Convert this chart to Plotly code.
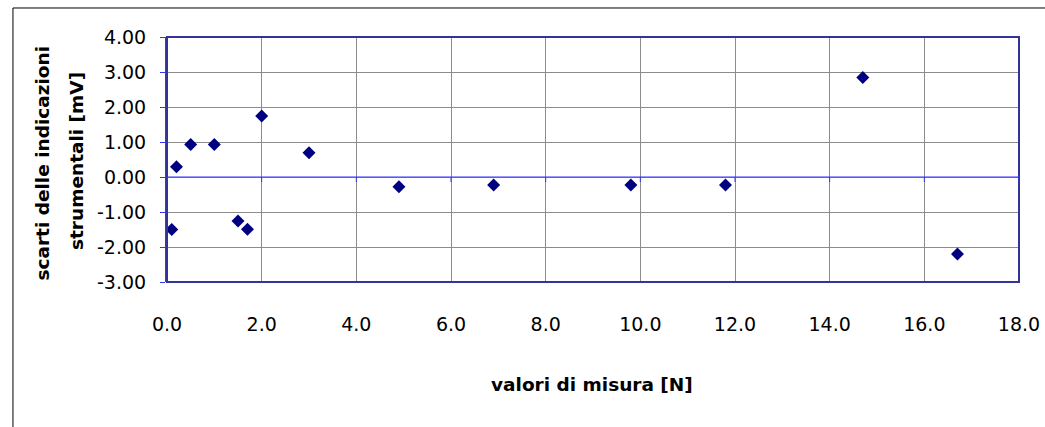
import plotly.graph_objects as go

# ---- data ----
x_vals = [0.1, 0.2, 0.5, 1.0, 1.5, 1.7, 2.0, 3.0, 4.9, 6.9, 9.8, 11.8, 14.7, 16.7]
y_vals = [-1.50, 0.29, 0.93, 0.93, -1.26, -1.49, 1.74, 0.69, -0.28, -0.23, -0.23, -0.23, 2.84, -2.20]

x_ticks = [0, 2, 4, 6, 8, 10, 12, 14, 16, 18]
x_tick_text = ["0.0", "2.0", "4.0", "6.0", "8.0", "10.0", "12.0", "14.0", "16.0", "18.0"]
y_ticks = [-3, -2, -1, 0, 1, 2, 3, 4]
y_tick_text = ["-3.00", "-2.00", "-1.00", "0.00", "1.00", "2.00", "3.00", "4.00"]

x_title = "valori di misura [N]"
y_title_lines = ["scarti delle indicazioni", "strumentali [mV]"]

FONT = "DejaVu Sans"
NAVY = "#000080"
FRAME = "#333399"
BLUE = "#3333ff"
GRID = "#8c8c8c"

fig = go.Figure()
fig.add_trace(go.Scatter(
    x=x_vals, y=y_vals, mode="markers",
    marker=dict(symbol="diamond", size=10, color=NAVY, line=dict(width=0)),
    showlegend=False, hoverinfo="x+y",
))

shapes = []
# plot-area frame
shapes.append(dict(type="rect", xref="paper", yref="paper", x0=0, x1=1, y0=0, y1=1,
                   line=dict(color=FRAME, width=2), layer="above"))
# horizontal axis crossing at y = 0
shapes.append(dict(type="line", xref="x", yref="y", x0=x_ticks[0], x1=x_ticks[-1], y0=0, y1=0,
                   line=dict(color=BLUE, width=1)))
for t in x_ticks:
    shapes.append(dict(type="line", xref="x", yref="y", ysizemode="pixel", yanchor=0,
                       x0=t, x1=t, y0=0, y1=-5, line=dict(color=BLUE, width=1)))
# outer chart border (partially outside the window)
shapes.append(dict(type="path", xref="paper", yref="paper",
                   path="M -0.1808,-0.7 L -0.1808,1.1184 L 1.05,1.1184",
                   line=dict(color="#000000", width=1)))

annotations = [
    dict(text="<b>%s</b>" % x_title, xref="paper", yref="paper", x=0.499, y=-0.42,
         xanchor="center", yanchor="middle", showarrow=False,
         font=dict(family=FONT, size=18.5, color="#000000")),
    dict(text="<b>%s</b>" % y_title_lines[0], xref="paper", yref="paper", x=-0.1467, y=0.4837,
         xanchor="center", yanchor="middle", textangle=-90, showarrow=False,
         font=dict(family=FONT, size=18.5, color="#000000")),
    dict(text="<b>%s</b>" % y_title_lines[1], xref="paper", yref="paper", x=-0.1056, y=0.494,
         xanchor="center", yanchor="middle", textangle=-90, showarrow=False,
         font=dict(family=FONT, size=18.5, color="#000000")),
]

fig.update_layout(
    width=1045, height=427,
    margin=dict(l=167, r=26, t=37, b=145, autoexpand=False),
    paper_bgcolor="white", plot_bgcolor="white",
    font=dict(family=FONT, size=19, color="#000000"),
    shapes=shapes, annotations=annotations,
    xaxis=dict(range=[0, 18], tickmode="array", tickvals=x_ticks, ticktext=x_tick_text,
               showgrid=True, gridcolor=GRID, gridwidth=1, zeroline=False, showline=False,
               ticks="", ticklabelstandoff=29, tickfont=dict(size=19), automargin=False),
    yaxis=dict(range=[-3, 4], tickmode="array", tickvals=y_ticks, ticktext=y_tick_text,
               showgrid=True, gridcolor=GRID, gridwidth=1, zeroline=False,
               showline=True, linecolor=BLUE, linewidth=2, ticks="outside", ticklen=5,
               tickcolor=BLUE, ticklabelstandoff=10, tickfont=dict(size=19), automargin=False),
)

fig.write_html(
    "out.html",
    config={"displayModeBar": False},
    post_script="document.body.style.margin='0';document.body.style.overflow='hidden';",
)
